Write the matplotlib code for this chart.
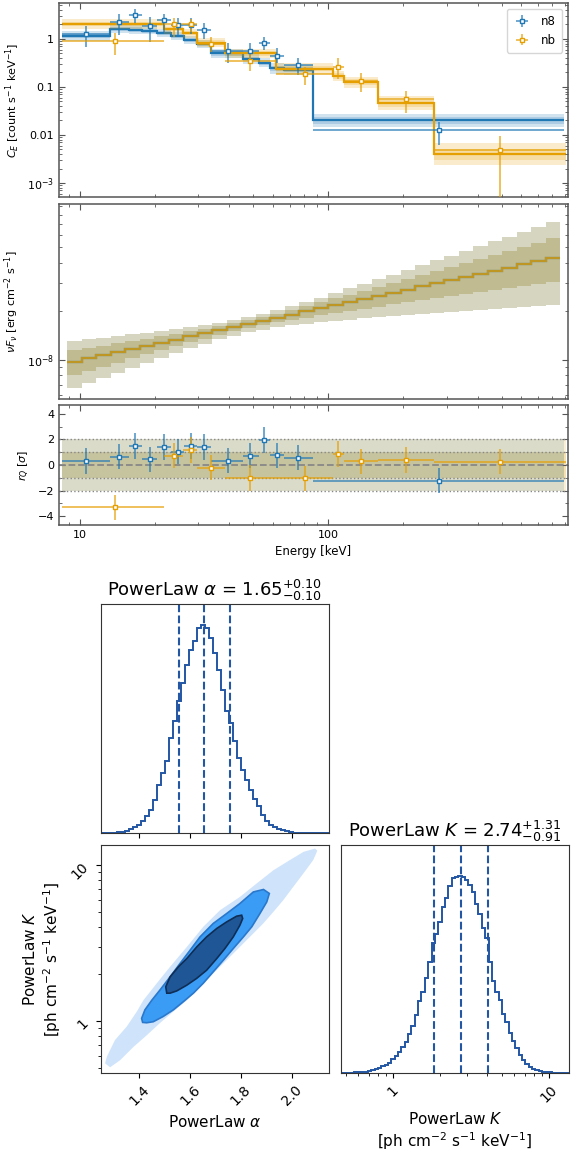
import numpy as np
import matplotlib
matplotlib.use('Agg')  # headless backend
import matplotlib.pyplot as plt
from matplotlib.colors import to_rgba
from matplotlib.ticker import (FixedLocator, FixedFormatter, NullFormatter,
                               LogLocator, AutoMinorLocator, FuncFormatter)

# ---------------- count spectrum: detector n8 ----------------
n8_edges = [8.44, 13.2, 15.8, 17.8, 20.5, 23.2, 26.2, 29.7, 33.6, 45.5, 52.4, 58.4, 66.1, 86.7, 895]
n8_energy = [10.6, 14.4, 16.7, 19.1, 21.9, 24.8, 28.0, 31.7, 39.3, 48.4, 55.1, 62.2, 75.7, 278.6]
n8_rate = [1.27, 2.26, 3.15, 1.89, 2.48, 1.95, 1.98, 1.56, 0.571, 0.571, 0.826, 0.45, 0.288, 0.0124]
n8_rate_lo = [0.67, 1.21, 2.12, 0.88, 1.41, 1.12, 1.29, 0.99, 0.31, 0.38, 0.59, 0.31, 0.18, 0.0063]
n8_rate_hi = [1.86, 3.31, 4.20, 2.91, 3.30, 2.69, 2.67, 2.12, 0.84, 0.84, 1.08, 0.64, 0.40, 0.019]
n8_model = [1.15, 1.60, 1.57, 1.49, 1.31, 1.15, 0.95, 0.79, 0.50, 0.38, 0.32, 0.245, 0.227, 0.020]
n8_band = [0.10, 0.09, 0.09, 0.08, 0.08, 0.08, 0.08, 0.08, 0.09, 0.10, 0.10, 0.11, 0.11, 0.14]
n8_resid = [0.31, 0.65, 1.49, 0.44, 1.39, 1.05, 1.49, 1.39, 0.34, 0.73, 1.96, 0.76, 0.58, -1.23]

# ---------------- count spectrum: detector nb ----------------
nb_edges = [8.48, 21.9, 26.0, 29.5, 38.5, 61.7, 105, 116, 158, 267, 908]
nb_energy = [13.8, 23.9, 28.1, 33.7, 48.4, 80.4, 110, 135.5, 206.5, 494]
nb_rate = [0.91, 2.02, 2.02, 0.787, 0.354, 0.187, 0.265, 0.134, 0.0557, 0.0049]
nb_rate_lo = [0.46, 1.12, 1.42, 0.53, 0.21, 0.11, 0.145, 0.080, 0.029, 0.0003]
nb_rate_hi = [1.31, 2.69, 2.62, 1.12, 0.50, 0.265, 0.40, 0.194, 0.084, 0.0096]
nb_model = [2.05, 1.59, 1.31, 0.84, 0.50, 0.24, 0.17, 0.125, 0.046, 0.0040]
nb_band = [0.10, 0.09, 0.09, 0.09, 0.10, 0.11, 0.11, 0.12, 0.15, 0.23]
nb_resid = [-3.32, 0.73, 1.18, -0.21, -1.0, -1.05, 0.86, 0.29, 0.39, 0.26]

# ---------------- nuFnu model (units of 1e-8 erg cm-2 s-1) ----------------
NUFNU_UNIT = 1e-8
nufnu_emin, nufnu_emax, nufnu_nbins = 8.9, 861, 34
nufnu_mid = [0.975, 1.020, 1.067, 1.116, 1.167, 1.220, 1.276, 1.335, 1.396, 1.460, 1.527, 1.597,
             1.670, 1.746, 1.826, 1.910, 1.998, 2.089, 2.185, 2.285, 2.390, 2.500, 2.614, 2.734,
             2.859, 2.990, 3.127, 3.270, 3.420, 3.576, 3.741, 3.913, 4.092, 4.279]
nufnu_2s_hi = [1.312, 1.342, 1.372, 1.404, 1.436, 1.471, 1.508, 1.547, 1.589, 1.636, 1.690, 1.754,
               1.831, 1.923, 2.030, 2.152, 2.288, 2.437, 2.600, 2.775, 2.965, 3.169, 3.389, 3.624,
               3.877, 4.148, 4.439, 4.750, 5.085, 5.442, 5.828, 6.239, 6.679, 7.151]
nufnu_2s_lo = [0.664, 0.715, 0.769, 0.828, 0.891, 0.957, 1.028, 1.102, 1.179, 1.259, 1.338, 1.413,
               1.481, 1.541, 1.592, 1.636, 1.675, 1.710, 1.743, 1.775, 1.805, 1.836, 1.865, 1.894,
               1.924, 1.954, 1.983, 2.013, 2.042, 2.072, 2.102, 2.133, 2.164, 2.195]
nufnu_1s_hi = [1.148, 1.186, 1.225, 1.266, 1.308, 1.353, 1.399, 1.447, 1.499, 1.554, 1.615, 1.682,
               1.757, 1.841, 1.935, 2.039, 2.152, 2.274, 2.404, 2.543, 2.691, 2.848, 3.015, 3.193,
               3.380, 3.580, 3.792, 4.016, 4.255, 4.504, 4.775, 5.058, 5.357, 5.677]
nufnu_1s_lo = [0.804, 0.854, 0.906, 0.961, 1.019, 1.081, 1.145, 1.213, 1.283, 1.355, 1.429, 1.502,
               1.573, 1.640, 1.705, 1.767, 1.829, 1.890, 1.952, 2.014, 2.077, 2.142, 2.208, 2.275,
               2.345, 2.417, 2.490, 2.565, 2.643, 2.721, 2.804, 2.889, 2.976, 3.065]

# ---------------- posterior (corner) ----------------
alpha_range, alpha_nbins = (1.249, 2.147), 57
alpha_counts = [0, 0, 0, 2, 3, 6, 11, 18, 27, 40, 57, 80, 111, 159, 231, 287, 342, 454, 533, 629,
                717, 804, 876, 916, 979, 995, 979, 932, 860, 780, 685, 581, 525, 438, 358, 303,
                252, 204, 162, 127, 88, 56, 40, 30, 21, 14, 8, 5, 2, 1, 0, 0, 0, 0, 0, 0, 0]
alpha_quant = [1.556, 1.655, 1.759]

K_range, K_nbins = (0.464, 13.49), 68
K_counts = [0, 0, 2, 2, 3, 3, 5, 7, 10, 14, 20, 26, 34, 41, 53, 70, 85, 107, 133, 158,
            197, 240, 294, 366, 413, 481, 566, 660, 706, 770, 847, 889, 949, 992, 995, 1000, 995, 983, 954, 923,
            859, 808, 740, 685, 566, 468, 410, 371, 298, 260, 206, 162, 128, 94, 66, 46, 32, 22, 15, 10,
            7, 5, 3, 2, 2, 0, 0, 0]
K_quant = [1.83, 2.74, 4.05]

# sample cloud and credible-region outlines (alpha, K)
cloud_alpha = [1.272, 1.304, 1.350, 1.390, 1.416, 1.469, 1.521, 1.587, 1.652, 1.718, 1.796, 1.862, 1.928,
               1.993, 2.047, 2.092, 2.101, 2.085, 2.046, 2.006, 1.967, 1.928, 1.888, 1.849, 1.796, 1.744,
               1.691, 1.639, 1.587, 1.534, 1.481, 1.429, 1.376, 1.324, 1.285, 1.265]
cloud_K = [0.59, 0.755, 0.92, 1.15, 1.36, 1.75, 2.23, 2.99, 4.03, 5.15, 6.26, 7.64, 9.29,
           10.8, 12.2, 12.8, 12.4, 10.8, 8.85, 7.26, 5.97, 5.02, 4.23, 3.65, 2.99, 2.46,
           2.02, 1.66, 1.36, 1.15, 0.97, 0.81, 0.68, 0.56, 0.505, 0.535]
c2_alpha = [1.413, 1.409, 1.422, 1.449, 1.481, 1.521, 1.560, 1.600, 1.639, 1.691, 1.744, 1.796, 1.849,
            1.889, 1.912, 1.902, 1.875, 1.843, 1.810, 1.770, 1.731, 1.691, 1.652, 1.613, 1.573, 1.534,
            1.494, 1.455, 1.429]
c2_K = [0.98, 1.04, 1.18, 1.36, 1.58, 1.92, 2.34, 2.85, 3.47, 4.23, 4.90, 5.68, 6.74,
        6.99, 6.59, 5.82, 4.90, 4.03, 3.47, 2.92, 2.46, 2.07, 1.75, 1.51, 1.33, 1.18,
        1.07, 0.99, 0.975]
c1_alpha = [1.508, 1.504, 1.521, 1.554, 1.587, 1.626, 1.665, 1.705, 1.744, 1.783, 1.803, 1.807, 1.796,
            1.770, 1.737, 1.705, 1.665, 1.626, 1.587, 1.547, 1.521]
c1_K = [1.51, 1.66, 1.92, 2.23, 2.52, 2.99, 3.47, 3.93, 4.33, 4.71, 4.78, 4.55, 4.12,
        3.47, 2.92, 2.52, 2.12, 1.88, 1.70, 1.56, 1.51]

C_N8 = '#1f77b4'
C_NB = '#e69f00'
C_POST = '#2356a3'
SPINE = '#555555'


def stairs_band(ax, edges, lo, hi, color, alpha):
    ax.fill_between(edges, list(lo) + [lo[-1]], list(hi) + [hi[-1]], step='post',
                    color=color, alpha=alpha, lw=0)


def spec_style(ax):
    ax.tick_params(which='both', direction='in', top=True, right=True, labelsize=8, color=SPINE)
    ax.tick_params(which='major', length=4)
    ax.tick_params(which='minor', length=2)
    for s in ax.spines.values():
        s.set_color(SPINE)
        s.set_linewidth(1.1)


fig = plt.figure(figsize=(5.71, 11.65), dpi=100)
left, width = 59 / 571, 509 / 571
ax1 = fig.add_axes([left, 1 - 197 / 1165, width, 194 / 1165])
ax2 = fig.add_axes([left, 1 - 399 / 1165, width, 195 / 1165], sharex=ax1)
ax3 = fig.add_axes([left, 1 - 525 / 1165, width, 120 / 1165], sharex=ax1)

# ---- panel 1: counts ----
for edges, energy, rate, lo, hi, model, band, color, name in [
        (n8_edges, n8_energy, n8_rate, n8_rate_lo, n8_rate_hi, n8_model, n8_band, C_N8, 'n8'),
        (nb_edges, nb_energy, nb_rate, nb_rate_lo, nb_rate_hi, nb_model, nb_band, C_NB, 'nb')]:
    m = np.array(model)
    b = np.array(band)
    stairs_band(ax1, edges, m * 10 ** (-b), m * 10 ** b, color, 0.2)
    stairs_band(ax1, edges, m * 10 ** (-b / 2), m * 10 ** (b / 2), color, 0.2)
    ax1.stairs(model, edges, color=color, lw=1.6, baseline=None)

for edges, energy, rate, lo, hi, color, name in [
        (n8_edges, n8_energy, n8_rate, n8_rate_lo, n8_rate_hi, C_N8, 'n8'),
        (nb_edges, nb_energy, nb_rate, nb_rate_lo, nb_rate_hi, C_NB, 'nb')]:
    e = np.array(energy)
    ed = np.array(edges)
    r = np.array(rate)
    ax1.errorbar(e, r, xerr=[e - ed[:-1], ed[1:] - e],
                 yerr=[r - np.array(lo), np.array(hi) - r],
                 fmt='s', ms=3.2, mfc='white', mec=color, mew=1,
                 ecolor=to_rgba(color, 0.75), elinewidth=1.2, label=name, zorder=5)

ax1.set_xscale('log')
ax1.set_yscale('log')
ax1.set_ylim(5.1e-4, 5.6)
ax1.set_xlim(8.23, 925)
ax1.yaxis.set_major_locator(FixedLocator([1e-3, 1e-2, 1e-1, 1]))
ax1.yaxis.set_major_formatter(FixedFormatter(['$10^{-3}$', '0.01', '0.1', '1']))
ax1.set_ylabel(r'$C_E$ [count s$^{-1}$ keV$^{-1}$]', fontsize=8)
ax1.legend(loc='upper right', fontsize=8.5, handlelength=1.6, borderpad=0.5)
spec_style(ax1)
ax1.tick_params(labelbottom=False)

# ---- panel 2: nuFnu ----
nu_edges = np.geomspace(nufnu_emin, nufnu_emax, nufnu_nbins + 1)
for color in (C_N8, C_NB):
    stairs_band(ax2, nu_edges, np.array(nufnu_2s_lo) * NUFNU_UNIT,
                np.array(nufnu_2s_hi) * NUFNU_UNIT, color, 0.2)
    stairs_band(ax2, nu_edges, np.array(nufnu_1s_lo) * NUFNU_UNIT,
                np.array(nufnu_1s_hi) * NUFNU_UNIT, color, 0.2)
ax2.stairs(np.array(nufnu_mid) * NUFNU_UNIT, nu_edges, color=C_N8, lw=1.6, baseline=None)
ax2.stairs(np.array(nufnu_mid) * NUFNU_UNIT, nu_edges, color=C_NB, lw=1.6, alpha=0.8, baseline=None)
ax2.set_yscale('log')
ax2.set_ylim(5.7e-9, 9.3e-8)
ax2.yaxis.set_major_locator(FixedLocator([1e-8]))
ax2.yaxis.set_major_formatter(FixedFormatter(['$10^{-8}$']))
ax2.yaxis.set_minor_locator(LogLocator(base=10, subs=np.arange(2, 10)))
ax2.yaxis.set_minor_formatter(NullFormatter())
ax2.set_ylabel(r'$\nu F_{\nu}$ [erg cm$^{-2}$ s$^{-1}$]', fontsize=8)
spec_style(ax2)
ax2.tick_params(labelbottom=False)

# ---- panel 3: residuals ----
for edges, color in ((n8_edges, C_N8), (nb_edges, C_NB)):
    ax3.fill_between([edges[0], edges[-1]], -2, 2, color=color, alpha=0.17, lw=0)
    ax3.fill_between([edges[0], edges[-1]], -1, 1, color=color, alpha=0.17, lw=0)
for lev in (-2, -1, 1, 2):
    ax3.axhline(lev, color='#888888', ls=':', lw=1)
ax3.axhline(0, color='#888888', ls='--', lw=1.3)
for edges, energy, res, color in ((n8_edges, n8_energy, n8_resid, C_N8),
                                  (nb_edges, nb_energy, nb_resid, C_NB)):
    e = np.array(energy)
    ed = np.array(edges)
    ax3.errorbar(e, res, xerr=[e - ed[:-1], ed[1:] - e], yerr=1,
                 fmt='s', ms=3.2, mfc='white', mec=color, mew=1,
                 ecolor=to_rgba(color, 0.75), elinewidth=1.2, zorder=5)
ax3.set_ylim(-4.7, 4.7)
ax3.yaxis.set_major_locator(FixedLocator([-4, -2, 0, 2, 4]))
ax3.yaxis.set_minor_locator(AutoMinorLocator(2))
ax3.xaxis.set_major_formatter(FuncFormatter(lambda v, p: '%g' % v))
ax3.xaxis.set_minor_formatter(NullFormatter())
ax3.set_ylabel(r'$r_{Q}$ [$\sigma$]', fontsize=8)
ax3.set_xlabel('Energy [keV]', fontsize=8.5)
spec_style(ax3)

# ---------------- corner plot ----------------
axA = fig.add_axes([101 / 571, 1 - 833 / 1165, 228 / 571, 229 / 1165])
axS = fig.add_axes([101 / 571, 1 - 1073 / 1165, 228 / 571, 228 / 1165])
axK = fig.add_axes([341 / 571, 1 - 1073 / 1165, 228 / 571, 228 / 1165])

alpha_edges = np.linspace(alpha_range[0], alpha_range[1], alpha_nbins + 1)
axA.stairs(alpha_counts, alpha_edges, color=C_POST, lw=1.4)
for q in alpha_quant:
    axA.axvline(q, color=C_POST, ls='--', lw=1.5)
axA.set_xlim(alpha_range)
axA.set_ylim(0, max(alpha_counts) * 1.1)
axA.set_yticks([])
axA.set_xticks([1.4, 1.6, 1.8, 2.0])
axA.tick_params(labelbottom=False)
axA.set_title(r'PowerLaw $\alpha$ = $1.65^{+0.10}_{-0.10}$', fontsize=13)

K_edges = np.geomspace(K_range[0], K_range[1], K_nbins + 1)
axK.stairs(K_counts, K_edges, color=C_POST, lw=1.4)
for q in K_quant:
    axK.axvline(q, color=C_POST, ls='--', lw=1.5)
axK.set_xscale('log')
axK.set_xlim(K_range)
axK.set_ylim(0, max(K_counts) * 1.16)
axK.set_yticks([])
axK.xaxis.set_major_formatter(FuncFormatter(lambda v, p: '%g' % v))
axK.xaxis.set_minor_formatter(NullFormatter())
axK.tick_params(axis='x', labelrotation=45, labelsize=10)
axK.set_xlabel('PowerLaw $K$\n[ph cm$^{-2}$ s$^{-1}$ keV$^{-1}$]', fontsize=11)
axK.set_title(r'PowerLaw $K$ = $2.74^{+1.31}_{-0.91}$', fontsize=13)

axS.fill(cloud_alpha, cloud_K, color='#cfe4fb', lw=0)
axS.fill(c2_alpha, c2_K, facecolor='#3a9cf5', edgecolor='#2a78cc', lw=1.2)
axS.fill(c1_alpha, c1_K, facecolor='#1f5796', edgecolor='#0f2d55', lw=1.2)
axS.set_yscale('log')
axS.set_xlim(alpha_range)
axS.set_ylim(K_range)
axS.set_xticks([1.4, 1.6, 1.8, 2.0])
axS.xaxis.set_major_formatter(FuncFormatter(lambda v, p: '%.1f' % v))
axS.yaxis.set_major_formatter(FuncFormatter(lambda v, p: '%g' % v))
axS.yaxis.set_minor_formatter(NullFormatter())
axS.tick_params(axis='both', labelrotation=45, labelsize=10)
axS.set_xlabel(r'PowerLaw $\alpha$', fontsize=11)
axS.set_ylabel('PowerLaw $K$\n[ph cm$^{-2}$ s$^{-1}$ keV$^{-1}$]', fontsize=11)

for ax in (axA, axS, axK):
    for s in ax.spines.values():
        s.set_color('#333333')

fig.savefig('out.png', dpi=100)
